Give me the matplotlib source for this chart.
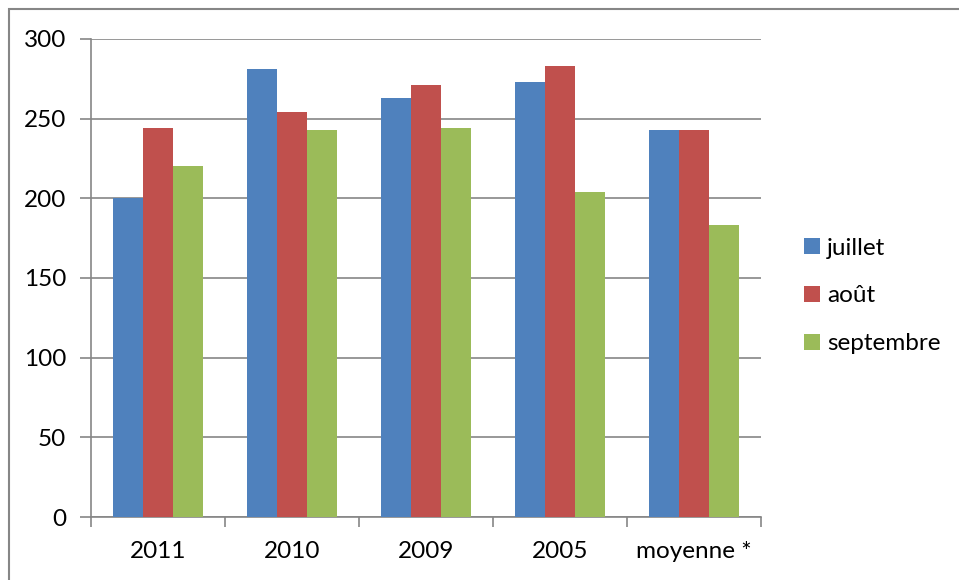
import numpy as np
import matplotlib
matplotlib.use('Agg')
import matplotlib.pyplot as plt
from matplotlib.patches import Rectangle

plt.rcParams['font.family'] = ['Lato', 'DejaVu Sans']

categories = ['2011', '2010', '2009', '2005', 'moyenne *']
juillet = [200, 281, 263, 273, 243]
aout = [244, 254, 271, 283, 243]
septembre = [220, 243, 244, 204, 183]
series_names = ['juillet', 'août', 'septembre']
colors = ['#4F81BD', '#C0504D', '#9BBB59']

fig = plt.figure(figsize=(9.59, 5.80), dpi=100)
ax = fig.add_axes([91/959, 1-517/580, 670/959, 478/580])

x = np.arange(len(categories))
w = 0.222
for i, (vals, name, col) in enumerate(zip([juillet, aout, septembre], series_names, colors)):
    ax.bar(x + (i-1)*w, vals, width=w, color=col, label=name, zorder=3)

grid_col = '#868686'
fs = 17.5
ax.set_xlim(-0.5, len(categories)-0.5)
ax.set_ylim(0, 300)
ax.set_yticks(range(0, 301, 50))
ax.yaxis.grid(True, color=grid_col, linewidth=1.2, zorder=0)
ax.set_xticks(x)
ax.set_xticklabels(categories)
ax.set_xticks(np.arange(-0.5, len(categories), 1), minor=True)
ax.tick_params(axis='x', which='major', length=0, labelsize=fs, pad=17)
ax.tick_params(axis='x', which='minor', length=7, width=1.2, color=grid_col, direction='out')
ax.tick_params(axis='y', length=8, width=1.2, color=grid_col, labelsize=fs, pad=10)
for s in ['top', 'right']:
    ax.spines[s].set_visible(False)
for s in ['left', 'bottom']:
    ax.spines[s].set_color(grid_col)
    ax.spines[s].set_linewidth(1.2)

ax.legend(loc='center left', bbox_to_anchor=(804/959, 1-296/580), bbox_transform=fig.transFigure,
          frameon=False, fontsize=fs, handlelength=0.65, handleheight=0.65, handletextpad=0.3,
          labelspacing=1.1, borderaxespad=0, borderpad=0)

# cadre du graphique
fig.patches.append(Rectangle((9/959, -0.1), 1.2, 1.1 - 9/580, transform=fig.transFigure,
                             fill=False, edgecolor=grid_col, linewidth=1.5))

fig.savefig('out.png', dpi=100, facecolor='white')
